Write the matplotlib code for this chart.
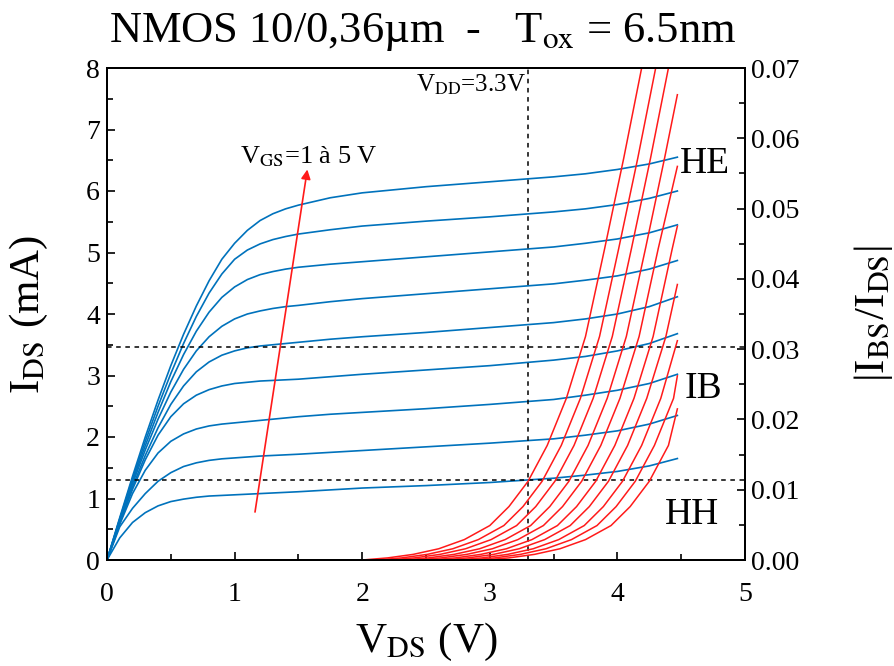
import matplotlib

matplotlib.use("Agg")
import matplotlib.pyplot as plt
from matplotlib.ticker import MultipleLocator

plt.rcParams["font.family"] = "Liberation Serif"
plt.rcParams["mathtext.fontset"] = "stix"

BLUE = "#0072BC"
RED = "#FF1A1A"

# I_DS(V_DS) for V_GS = 1 ... 5 V (step 0.5 V), in mA
vds_blue = [0, 0.1, 0.2, 0.3, 0.4, 0.5, 0.6, 0.7, 0.8, 0.9, 1.0, 1.1, 1.2, 1.3,
            1.4, 1.5, 1.75, 2.0, 2.5, 3.0, 3.5, 3.75, 4.0, 4.25, 4.47]
ids_curves = [
    [0, 0.36, 0.61, 0.77, 0.88, 0.95, 0.99, 1.02, 1.04, 1.05, 1.06, 1.07, 1.08,
     1.09, 1.10, 1.11, 1.14, 1.17, 1.21, 1.26, 1.33, 1.38, 1.44, 1.53, 1.65],
    [0, 0.54, 0.84, 1.08, 1.28, 1.42, 1.52, 1.58, 1.62, 1.645, 1.66, 1.675, 1.69,
     1.70, 1.71, 1.72, 1.75, 1.78, 1.84, 1.90, 1.97, 2.03, 2.10, 2.21, 2.35],
    [0, 0.58, 1.08, 1.46, 1.74, 1.93, 2.05, 2.13, 2.18, 2.21, 2.23, 2.25, 2.27,
     2.29, 2.31, 2.33, 2.37, 2.40, 2.46, 2.53, 2.61, 2.68, 2.76, 2.87, 3.02],
    [0, 0.60, 1.15, 1.63, 2.03, 2.33, 2.54, 2.68, 2.77, 2.83, 2.87, 2.89, 2.91,
     2.92, 2.93, 2.94, 2.98, 3.02, 3.09, 3.16, 3.25, 3.31, 3.40, 3.52, 3.68],
    [0, 0.62, 1.19, 1.70, 2.15, 2.53, 2.83, 3.06, 3.22, 3.33, 3.40, 3.45, 3.48,
     3.50, 3.52, 3.54, 3.59, 3.63, 3.70, 3.78, 3.86, 3.92, 4.00, 4.12, 4.28],
    [0, 0.64, 1.24, 1.79, 2.29, 2.73, 3.10, 3.40, 3.63, 3.80, 3.92, 4.00, 4.05,
     4.09, 4.12, 4.14, 4.20, 4.25, 4.33, 4.41, 4.49, 4.55, 4.62, 4.73, 4.87],
    [0, 0.66, 1.28, 1.86, 2.40, 2.90, 3.34, 3.72, 4.03, 4.27, 4.44, 4.56, 4.64,
     4.69, 4.73, 4.76, 4.81, 4.85, 4.93, 5.01, 5.09, 5.15, 5.22, 5.32, 5.45],
    [0, 0.67, 1.32, 1.93, 2.50, 3.03, 3.52, 3.96, 4.34, 4.65, 4.89, 5.04, 5.14,
     5.21, 5.26, 5.30, 5.37, 5.43, 5.51, 5.58, 5.66, 5.71, 5.78, 5.88, 6.00],
    [0, 0.69, 1.36, 2.00, 2.60, 3.16, 3.67, 4.13, 4.54, 4.89, 5.15, 5.36, 5.52,
     5.63, 5.71, 5.77, 5.89, 5.97, 6.07, 6.15, 6.23, 6.28, 6.35, 6.44, 6.55],
]

# |I_BS/I_DS| curves (right axis)
red_vds = [
    [2.00, 2.20, 2.40, 2.60, 2.80, 3.00, 3.15, 3.30, 3.45, 3.60, 3.75, 3.90, 4.05, 4.19],
    [2.11, 2.31, 2.51, 2.71, 2.91, 3.11, 3.26, 3.41, 3.56, 3.71, 3.86, 4.01, 4.16, 4.30],
    [2.21, 2.41, 2.61, 2.81, 3.01, 3.21, 3.36, 3.51, 3.66, 3.81, 3.96, 4.11, 4.26, 4.40],
    [2.32, 2.52, 2.72, 2.92, 3.12, 3.32, 3.47, 3.62, 3.77, 3.92, 4.07, 4.22, 4.37, 4.47],
    [2.42, 2.62, 2.82, 3.02, 3.22, 3.42, 3.57, 3.72, 3.87, 4.02, 4.17, 4.32, 4.47],
    [2.53, 2.73, 2.93, 3.13, 3.33, 3.53, 3.68, 3.83, 3.98, 4.13, 4.28, 4.43, 4.47],
    [2.63, 2.83, 3.03, 3.23, 3.43, 3.63, 3.78, 3.93, 4.08, 4.23, 4.38, 4.47],
    [2.74, 2.94, 3.14, 3.34, 3.54, 3.74, 3.89, 4.04, 4.19, 4.34, 4.47],
    [2.84, 3.04, 3.24, 3.44, 3.64, 3.84, 3.99, 4.14, 4.29, 4.44, 4.47],
    [2.95, 3.15, 3.35, 3.55, 3.75, 3.95, 4.10, 4.25, 4.40, 4.47],
]
red_ratio = [
    [0.0, 0.0003, 0.0008, 0.0016, 0.0029, 0.0049, 0.0076, 0.0112, 0.0163, 0.0230, 0.0318, 0.0443, 0.0572, 0.0700],
    [0.0, 0.0003, 0.0008, 0.0016, 0.0029, 0.0049, 0.0076, 0.0112, 0.0163, 0.0230, 0.0318, 0.0443, 0.0572, 0.0700],
    [0.0, 0.0003, 0.0008, 0.0016, 0.0029, 0.0049, 0.0076, 0.0112, 0.0163, 0.0230, 0.0318, 0.0443, 0.0572, 0.0700],
    [0.0, 0.0003, 0.0008, 0.0016, 0.0029, 0.0049, 0.0076, 0.0112, 0.0163, 0.0230, 0.0318, 0.0443, 0.0572, 0.0662],
    [0.0, 0.0003, 0.0008, 0.0016, 0.0029, 0.0049, 0.0076, 0.0112, 0.0163, 0.0230, 0.0318, 0.0443, 0.0560],
    [0.0, 0.0003, 0.0008, 0.0016, 0.0029, 0.0049, 0.0076, 0.0112, 0.0163, 0.0230, 0.0318, 0.0443, 0.0475],
    [0.0, 0.0003, 0.0008, 0.0016, 0.0029, 0.0049, 0.0076, 0.0112, 0.0163, 0.0230, 0.0318, 0.0392],
    [0.0, 0.0003, 0.0008, 0.0016, 0.0029, 0.0049, 0.0076, 0.0112, 0.0163, 0.0230, 0.0312],
    [0.0, 0.0003, 0.0008, 0.0016, 0.0029, 0.0049, 0.0076, 0.0112, 0.0163, 0.0230, 0.0262],
    [0.0, 0.0003, 0.0008, 0.0016, 0.0029, 0.0049, 0.0076, 0.0112, 0.0163, 0.0215],
]

vdd = 3.3
ids_marks = [3.46, 1.30]
arrow_start = (1.16, 0.78)
arrow_end = (1.57, 6.35)

fig = plt.figure(figsize=(8.94, 6.66), dpi=100)
ax = fig.add_axes([107 / 894, 106 / 666, 638 / 894, 492 / 666])
ax2 = ax.twinx()

for ids in ids_curves:
    ax.plot(vds_blue, ids, color=BLUE, lw=1.2)

for v, r in zip(red_vds, red_ratio):
    ax2.plot(v, r, color=RED, lw=1.1)

ax.axvline(vdd, color="black", ls=(0, (3, 3)), lw=1.1)
for y in ids_marks:
    ax.axhline(y, color="black", ls=(0, (3, 3)), lw=1.1)

ax.annotate("", xy=arrow_end, xytext=arrow_start,
            arrowprops=dict(arrowstyle="-|>", color=RED, lw=1.2,
                            mutation_scale=14, shrinkA=0, shrinkB=0))

ax.text(1.04, 6.55, r"V$_{\rm GS}$=1 à 5 V", fontsize=19, va="center")
ax.text(3.28, 7.72, r"V$_{\rm DD}$=3.3V", fontsize=18, va="center", ha="right")
ax.text(4.49, 6.44, "HE", fontsize=27, va="center")
ax.text(4.53, 2.78, "IB", fontsize=27, va="center")
ax.text(4.37, 0.74, "HH", fontsize=27, va="center")

ax.set_xlim(0, 5)
ax.set_ylim(0, 8)
ax2.set_ylim(0, 0.07)

ax.xaxis.set_major_locator(MultipleLocator(1))
ax.xaxis.set_minor_locator(MultipleLocator(0.5))
ax.yaxis.set_major_locator(MultipleLocator(1))
ax.yaxis.set_minor_locator(MultipleLocator(0.5))
ax2.yaxis.set_major_locator(MultipleLocator(0.01))
ax2.yaxis.set_minor_locator(MultipleLocator(0.005))
ax2.yaxis.set_major_formatter(plt.FormatStrFormatter("%.2f"))

ax.tick_params(which="both", direction="in", top=False, right=False,
               labelsize=20, width=1.2)
ax.tick_params(which="major", length=6)
ax.tick_params(which="minor", length=4)
ax.tick_params(axis="x", pad=16)
ax.tick_params(axis="y", pad=5)
ax2.tick_params(which="both", direction="in", labelsize=20, width=1.2, pad=4)
ax2.tick_params(which="major", length=6)
ax2.tick_params(which="minor", length=4)

for a in (ax, ax2):
    for s in a.spines.values():
        s.set_linewidth(1.4)

ax.set_xlabel(r"V$_{\rm DS}$ (V)", fontsize=31, labelpad=10)
ax.set_ylabel(r"I$_{\rm DS}$ (mA)", fontsize=31, labelpad=26)
ax2.set_ylabel(r"|I$_{\rm BS}$/I$_{\rm DS}$|", fontsize=31, labelpad=38)

fig.text(0.473, 0.952, r"NMOS 10/0,36µm  -   T$_{\rm ox}$ = 6.5nm",
         fontsize=32, ha="center", va="center")

fig.savefig("out.png", dpi=100)
